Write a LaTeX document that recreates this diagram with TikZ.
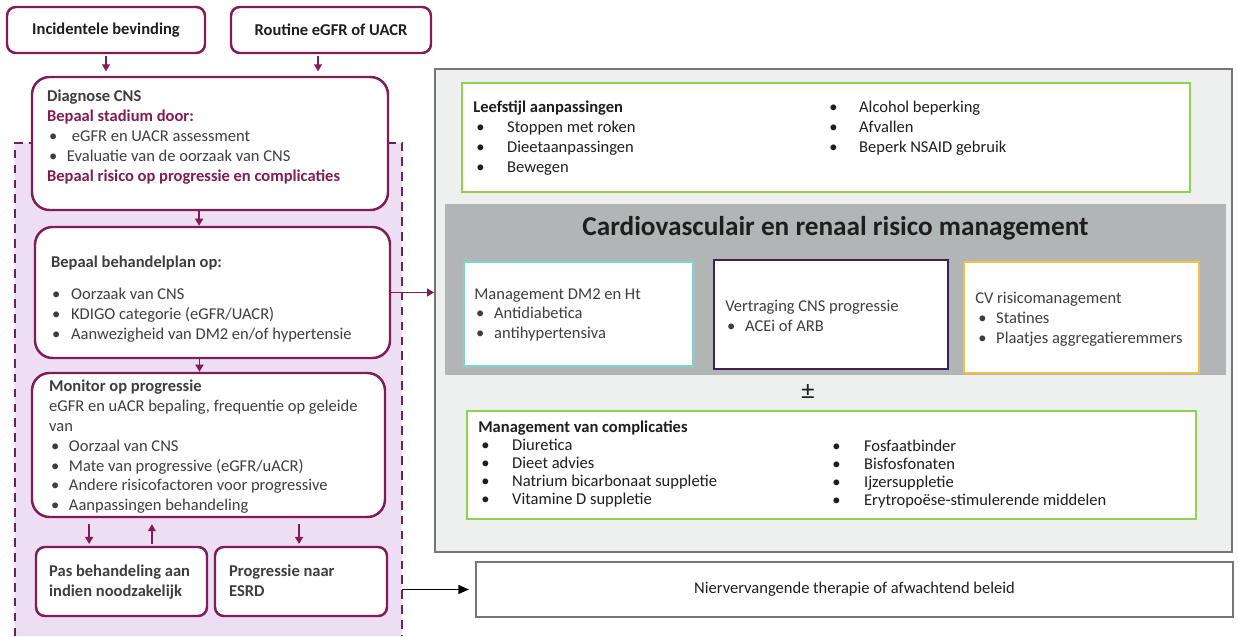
\documentclass[tikz,border=0pt]{standalone}
\usepackage{fontspec}
\setmainfont{Carlito}
\usetikzlibrary{positioning, arrows.meta, calc, fit}

\definecolor{pruim}{RGB}{128,28,86}
\definecolor{lila}{RGB}{237,222,244}
\definecolor{donkerlila}{RGB}{105,35,90}
\definecolor{tekst}{RGB}{62,62,62}
\definecolor{kopkleur}{RGB}{30,30,30}
\definecolor{lichtgrijs}{RGB}{237,240,239}
\definecolor{randgrijs}{RGB}{118,118,118}
\definecolor{bandgrijs}{RGB}{178,181,181}
\definecolor{groen}{RGB}{146,208,80}
\definecolor{turkoois}{RGB}{125,212,206}
\definecolor{paars}{RGB}{62,32,82}
\definecolor{geel}{RGB}{240,194,64}

\newcommand{\tekstfont}{\fontsize{9.4}{11.3}\selectfont}
\newcommand{\bul}[2][0pt]{\hspace*{#1}\makebox[#2][l]{\textbullet}}

\tikzset{
  pbox/.style={rectangle, draw=pruim, line width=1.4pt, fill=white, rounded corners=5pt, inner sep=0pt},
  pboxgroot/.style={pbox, rounded corners=10pt},
  zone/.style={rectangle, fill=lila, inner sep=0pt},
  zonelijn/.style={draw=donkerlila, line width=1.2pt, dash pattern=on 5pt off 3.5pt},
  kader/.style={rectangle, draw=randgrijs, line width=1.1pt, fill=lichtgrijs, inner sep=0pt},
  band/.style={rectangle, fill=bandgrijs, inner sep=0pt},
  vak/.style={rectangle, draw=#1, line width=1.2pt, fill=white, inner sep=0pt},
  txt/.style={anchor=north west, inner sep=0pt, align=left, text=tekst, font=\tekstfont},
  kop/.style={inner sep=0pt, text=kopkleur, font=\tekstfont\bfseries},
  titel/.style={font=\fontsize{15.5}{17}\selectfont\bfseries, text=kopkleur},
  parrow/.style={draw=pruim, line width=0.9pt, -{Triangle[width=4.5pt,length=4pt]}},
  zwarrow/.style={draw=black, line width=0.9pt, -{Triangle[width=5pt,length=6pt]}}
}

\begin{document}
\begin{tikzpicture}[x=0.02cm, y=-0.02cm]
  \useasboundingbox (0,0) rectangle (1238,636);

  % 1. Linker kolom: gestippelde zone
  \node[zone, fit={(15,143) (402,636)}] (zone) {};
  \draw[zonelijn] (zone.south west) -- (zone.north west) -- (zone.north east) -- (zone.south east);

  % 2. Startvakken en diagnose
  \node[pbox, fit={(7,7) (205,53)}] (inc) {};
  \node[kop] (incT) at (inc.center) {Incidentele bevinding};
  \node[pbox, fit={(231,7) (431,53)}] (rout) {};
  \node[kop] (routT) at (rout.center) {Routine eGFR of UACR};
  \node[pboxgroot, fit={(32,77) (388,210)}] (diag) {};
  \node[txt] (diagT) at ($(diag.north west)+(16,14)$) {%
    \textbf{Diagnose CNS}\\
    \textcolor{pruim}{\textbf{Bepaal stadium door:}}\\
    \bul[1.1pt]{13pt}eGFR en UACR assessment\\
    \bul[1.1pt]{10.2pt}Evaluatie van de oorzaak van CNS\\
    \textcolor{pruim}{\textbf{Bepaal risico op progressie en complicaties}}};

  % 3. Behandelplan en monitoring
  \node[pboxgroot, fit={(35,227) (390,358)}] (plan) {};
  \node[txt] (planT) at ($(plan.north west)+(17,30)$) {%
    \textbf{Bepaal behandelplan op:}\\[6.8pt]
    \bul[0.6pt]{10.8pt}Oorzaak van CNS\\
    \bul[0.6pt]{10.8pt}KDIGO categorie (eGFR/UACR)\\
    \bul[0.6pt]{10.8pt}Aanwezigheid van DM2 en/of hypertensie};

  \node[pboxgroot, fit={(32,373) (385,517)}] (mon) {};
  \node[txt] (monT) at ($(mon.north west)+(18,8)$) {%
    \textbf{Monitor op progressie}\\
    eGFR en uACR bepaling, frequentie op geleide\\
    van\\
    \bul[1.1pt]{10.2pt}Oorzaal van CNS\\
    \bul[1.1pt]{10.2pt}Mate van progressive (eGFR/uACR)\\
    \bul[1.1pt]{10.2pt}Andere risicofactoren voor progressive\\
    \bul[1.1pt]{10.2pt}Aanpassingen behandeling};

  \node[pbox, fit={(36,547) (207,616)}] (pas) {};
  \node[txt, font=\tekstfont\bfseries] (pasT) at ($(pas.north west)+(14,19)$) {Pas behandeling aan\\indien noodzakelijk};
  \node[pbox, fit={(215,547) (387,616)}] (prog) {};
  \node[txt, font=\tekstfont\bfseries] (progT) at ($(prog.north west)+(15,19)$) {Progressie naar\\ESRD};

  % 4. Rechter kader
  \node[kader, fit={(435,69) (1232,552)}] (kader) {};
  \node[vak=groen, fit={(462,83) (1190,192)}] (leef) {};
  \node[txt, text=kopkleur] (leefT) at ($(leef.north west)+(12,19)$) {%
    \textbf{Leefstijl aanpassingen}\\
    \bul[1.7pt]{17.6pt}Stoppen met roken\\
    \bul[1.7pt]{17.6pt}Dieetaanpassingen\\
    \bul[1.7pt]{17.6pt}Bewegen};
  \node[txt, text=kopkleur] (leefR) at ($(leef.north west)+(368,19)$) {%
    \bul{17pt}Alcohol beperking\\
    \bul{17pt}Afvallen\\
    \bul{17pt}Beperk NSAID gebruik};

  \node[band, fit={(445,204) (1226,375)}] (band) {};
  \node[titel] (titel) at ($(band.north)+(0,25)$) {Cardiovasculair en renaal risico management};

  \node[vak=turkoois, fit={(464,262) (693,366)}] (dm) {};
  \node[txt] (dmT) at ($(dm.north west)+(11,27)$) {%
    Management DM2 en Ht\\
    \bul[1.1pt]{10.2pt}Antidiabetica\\
    \bul[1.1pt]{10.2pt}antihypertensiva};
  \node[vak=paars, fit={(714,260) (948,369)}] (cns) {};
  \node[txt] (cnsT) at ($(cns.north west)+(12,41)$) {%
    Vertraging CNS progressie\\
    \bul[1.1pt]{10.2pt}ACEi of ARB};
  \node[vak=geel, fit={(964,262) (1199,373)}] (cv) {};
  \node[txt] (cvT) at ($(cv.north west)+(12,31)$) {%
    CV risicomanagement\\
    \bul[1.7pt]{10.2pt}Statines\\
    \bul[1.7pt]{10.2pt}Plaatjes aggregatieremmers};

  \node[font=\fontsize{15}{15}\selectfont, text=kopkleur, inner sep=0pt] (pm) at (808,392) {±};

  \node[vak=groen, fit={(467,411) (1196,519)}] (compl) {};
  \node[txt, text=kopkleur, font=\fontsize{9.4}{10.2}\selectfont] (complT) at ($(compl.north west)+(12,11)$) {%
    \textbf{Management van complicaties}\\
    \bul[1.7pt]{17.6pt}Diuretica\\
    \bul[1.7pt]{17.6pt}Dieet advies\\
    \bul[1.7pt]{17.6pt}Natrium bicarbonaat suppletie\\
    \bul[1.7pt]{17.6pt}Vitamine D suppletie};
  \node[txt, text=kopkleur, font=\fontsize{9.4}{10.2}\selectfont] (complR) at ($(compl.north west)+(366,30)$) {%
    \bul{18.1pt}Fosfaatbinder\\
    \bul{18.1pt}Bisfosfonaten\\
    \bul{18.1pt}Ijzersuppletie\\
    \bul{18.1pt}Erytropoëse-stimulerende middelen};

  % 5. Eindvak
  \node[vak=randgrijs, fit={(476,562) (1233,617)}] (nier) {};
  \node[inner sep=0pt, font=\tekstfont, text=kopkleur] (nierT) at (nier.center) {Niervervangende therapie of afwachtend beleid};

  % 6. Pijlen
  \draw[parrow, shorten <=1pt, shorten >=2.5pt] (inc.south) -- (inc.south |- diag.north);
  \draw[parrow, shorten <=1pt, shorten >=2.5pt] ([xshift=-7.4pt]rout.south) -- ([xshift=-7.4pt]rout.south |- diag.north);
  \draw[parrow] ([xshift=-6.2pt]diag.south) -- ([xshift=-6.2pt]diag.south |- plan.north);
  \draw[parrow] ([xshift=-7.4pt]plan.south) -- ([xshift=-7.4pt]plan.south |- mon.north);
  \draw[parrow] (plan.east) -- (plan.east -| kader.west);
  \draw[parrow, shorten <=3.4pt, shorten >=1pt] ([xshift=-18.4pt]pas.north |- mon.south) -- ([xshift=-18.4pt]pas.north);
  \draw[parrow, shorten <=1pt, shorten >=3.4pt] ([xshift=17.3pt]pas.north) -- ([xshift=17.3pt]pas.north |- mon.south);
  \draw[parrow, shorten <=3.4pt, shorten >=1pt] ([xshift=-1.1pt]prog.north |- mon.south) -- ([xshift=-1.1pt]prog.north);
  \draw[zwarrow, shorten >=3.4pt] (zone.east |- nier.west) -- (nier.west);
\end{tikzpicture}
\end{document}
